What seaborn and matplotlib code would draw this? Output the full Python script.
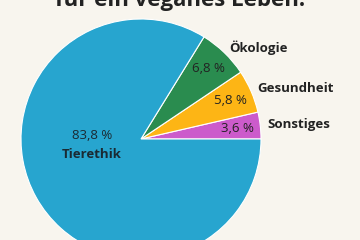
import matplotlib
matplotlib.use("Agg")
import matplotlib.pyplot as plt
import seaborn as sns
import numpy as np

sns.set_style("white")
plt.rcParams['font.family'] = ['Open Sans', 'DejaVu Sans']

categories = ["Sonstiges", "Gesundheit", "Ökologie", "Tierethik"]
values = [3.6, 5.8, 6.8, 83.8]
colors = ["#CC5BCB", "#FDB515", "#2A8C4F", "#27A5CF"]
title = "für ein veganes Leben."

bg = "#F8F5EE"
fig = plt.figure(figsize=(3.6, 2.4), dpi=100, facecolor=bg)
ax = fig.add_axes([21/360, (240-139-120)/240, 240/360, 240/240])
ax.set_facecolor(bg)

fmt = lambda v: f"{v:.1f} %".replace(".", ",")
labels = [c if c != "Tierethik" else "" for c in categories]
wedges, texts = ax.pie(values, colors=colors, startangle=0, counterclock=True,
                       labels=labels, labeldistance=1.06,
                       wedgeprops=dict(edgecolor="white", linewidth=0.8),
                       textprops=dict(fontsize=9.5, fontweight="bold", color="#222222"))
start = 0.0
for v, c in zip(values, categories):
    mid = np.deg2rad((start + v / 2) * 3.6)
    start += v
    if c == "Tierethik":
        ax.text(-0.41, 0.03, fmt(v), ha="center", va="center", fontsize=9.5, color="#1a2a33")
        ax.text(-0.41, -0.13, c, ha="center", va="center", fontsize=9.5, fontweight="bold", color="#1a2a33")
    else:
        ax.text(0.81 * np.cos(mid), 0.81 * np.sin(mid), fmt(v), ha="center", va="center",
                fontsize=9.5, color="#222222")
ax.set_xlim(-1, 1)
ax.set_ylim(-1, 1)
ax.set_aspect("equal")
ax.axis("off")

fig.text(0.5, 1 - 6/240, title, ha="center", va="baseline", fontsize=16,
         fontweight="bold", color="#222222")
fig.savefig("out.png", dpi=100, facecolor=bg)
